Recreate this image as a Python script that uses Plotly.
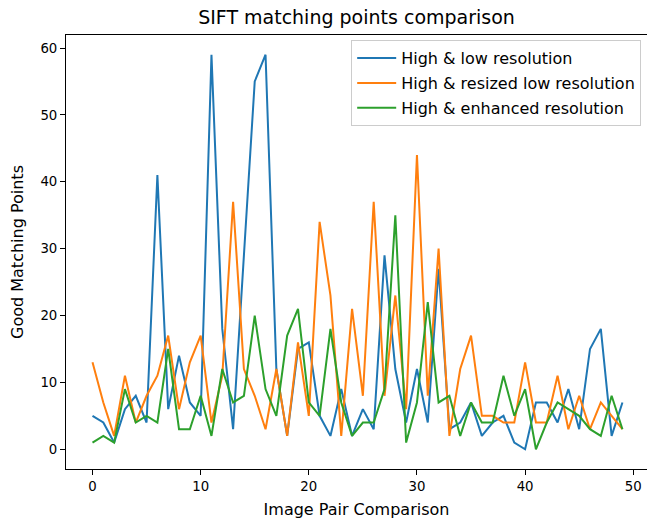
import plotly.graph_objects as go

pairs = list(range(50))
low_res = [5, 4, 1, 6, 8, 4, 41, 6, 14, 7, 5, 59, 18, 3, 29, 55, 59, 12, 2, 15,
           16, 5, 2, 9, 2, 6, 3, 29, 12, 4, 12, 4, 27, 3, 4, 7, 2, 4, 5, 1,
           0, 7, 7, 4, 9, 3, 15, 18, 2, 7]
resized_low_res = [13, 7, 2, 11, 4, 8, 11, 17, 6, 13, 17, 4, 11, 37, 12, 8, 3, 12, 2, 16,
                   5, 34, 23, 2, 21, 8, 37, 8, 23, 6, 44, 8, 30, 2, 12, 17, 5, 5, 4, 4,
                   13, 4, 4, 11, 3, 8, 3, 7, 5, 3]
enhanced_res = [1, 2, 1, 9, 4, 5, 4, 15, 3, 3, 8, 2, 12, 7, 8, 20, 9, 5, 17, 21,
                7, 5, 18, 7, 2, 4, 4, 9, 35, 1, 7, 22, 7, 8, 2, 7, 4, 4, 11, 5,
                9, 0, 4, 7, 6, 5, 3, 2, 8, 3]

series = [
    ("High & low resolution", low_res, "#1f77b4"),
    ("High & resized low resolution", resized_low_res, "#ff7f0e"),
    ("High & enhanced resolution", enhanced_res, "#2ca02c"),
]

FONT = "DejaVu Sans"

fig = go.Figure()
for i, (name, vals, color) in enumerate(series):
    fig.add_trace(go.Scatter(
        x=pairs, y=vals, mode="lines", name=name,
        line=dict(color=color, width=2),
        legendgroup=f"g{i}",
    ))

fig.update_layout(
    width=647, height=520,
    margin=dict(l=66, r=0, t=35, b=51),
    paper_bgcolor="white", plot_bgcolor="white",
    font=dict(family=FONT, size=16, color="black"),
    title=dict(text="SIFT matching points comparison", x=0.5, xref="paper",
               y=1 - 17 / 520, yref="container", xanchor="center", yanchor="middle",
               font=dict(family=FONT, size=19, color="black")),
    showlegend=True,
    legend=dict(
        x=0.99, y=0.988, xanchor="right", yanchor="top",
        bgcolor="rgba(255,255,255,0.8)", bordercolor="#cccccc", borderwidth=1,
        font=dict(family=FONT, size=16, color="black"),
        traceorder="grouped", tracegroupgap=1,
        itemwidth=39,
    ),
)

fig.update_xaxes(
    range=[-2.45, 51.27], tickmode="array", tickvals=[0, 10, 20, 30, 40, 50],
    showgrid=False, zeroline=False,
    showline=True, linecolor="black", linewidth=1, mirror=True,
    ticks="outside", ticklen=5, tickwidth=1, tickcolor="black",
    tickfont=dict(family=FONT, size=13.3, color="black"),
    title=dict(text="Image Pair Comparison", standoff=10,
               font=dict(family=FONT, size=16, color="black")),
)
fig.update_yaxes(
    range=[-2.95, 61.95], tickmode="array", tickvals=[0, 10, 20, 30, 40, 50, 60],
    showgrid=False, zeroline=False,
    showline=True, linecolor="black", linewidth=1, mirror=True,
    ticks="outside", ticklen=5, tickwidth=1, tickcolor="black",
    tickfont=dict(family=FONT, size=13.3, color="black"),
    title=dict(text="Good Matching Points", standoff=12,
               font=dict(family=FONT, size=16, color="black")),
)

fig.write_html(
    "out.html",
    config={"displayModeBar": False},
    post_script="document.body.style.margin='0';document.body.style.overflow='hidden';",
)
